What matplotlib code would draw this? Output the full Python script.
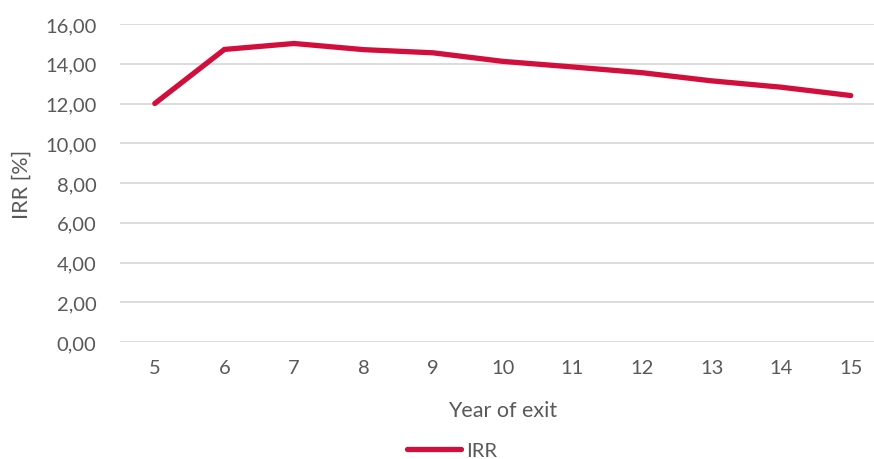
import matplotlib
matplotlib.use("Agg")
import matplotlib.pyplot as plt

years = [5, 6, 7, 8, 9, 10, 11, 12, 13, 14, 15]
irr = [12.0, 14.72, 15.02, 14.71, 14.55, 14.12, 13.84, 13.55, 13.14, 12.82, 12.40]
yticks = [0, 2, 4, 6, 8, 10, 12, 14, 16]
ytick_labels = ["0,00", "2,00", "4,00", "6,00", "8,00", "10,00", "12,00", "14,00", "16,00"]

W, H = 874, 460
fig = plt.figure(figsize=(W / 100, H / 100), dpi=100)
plt.rcParams['font.family'] = ['Lato', 'DejaVu Sans']
grey = '#595959'
red = '#D20F3C'

left, right = 120, 874
top, bottom = 25, 343
ax = fig.add_axes([left / W, (H - bottom) / H, (right - left) / W, (bottom - top) / H])
step = 69.6
ax.set_xlim(4.5, 4.5 + (right - left) / step)
ax.set_ylim(0, 16)

line, = ax.plot(years, irr, color=red, lw=3.8, solid_capstyle='round', solid_joinstyle='miter', label='IRR', clip_on=False, zorder=3)

ax.set_yticks(yticks)
ax.set_yticklabels(ytick_labels)
ax.set_xticks(years)
ax.set_xticklabels([str(y) for y in years])
ax.tick_params(axis='both', length=0, labelsize=14.5, colors=grey)
ax.tick_params(axis='y', pad=17)
ax.tick_params(axis='x', pad=12)
ax.grid(axis='y', color='#D9D9D9', lw=1.3)
ax.set_axisbelow(True)
for s in ax.spines.values():
    s.set_visible(False)

fig.text(22 / W, 1 - 184 / H, 'IRR [%]', rotation=90, ha='center', va='center', fontsize=15.5, color=grey)
fig.text(503 / W, 1 - 411 / H, 'Year of exit', ha='center', va='center', fontsize=15.5, color=grey)

fig.legend(handles=[line], labels=['IRR'], loc='center', bbox_to_anchor=(452 / W, 1 - 451 / H),
           frameon=False, fontsize=14.5, labelcolor=grey, handlelength=2.7, handletextpad=0.25)

fig.savefig('out.png', dpi=100)
